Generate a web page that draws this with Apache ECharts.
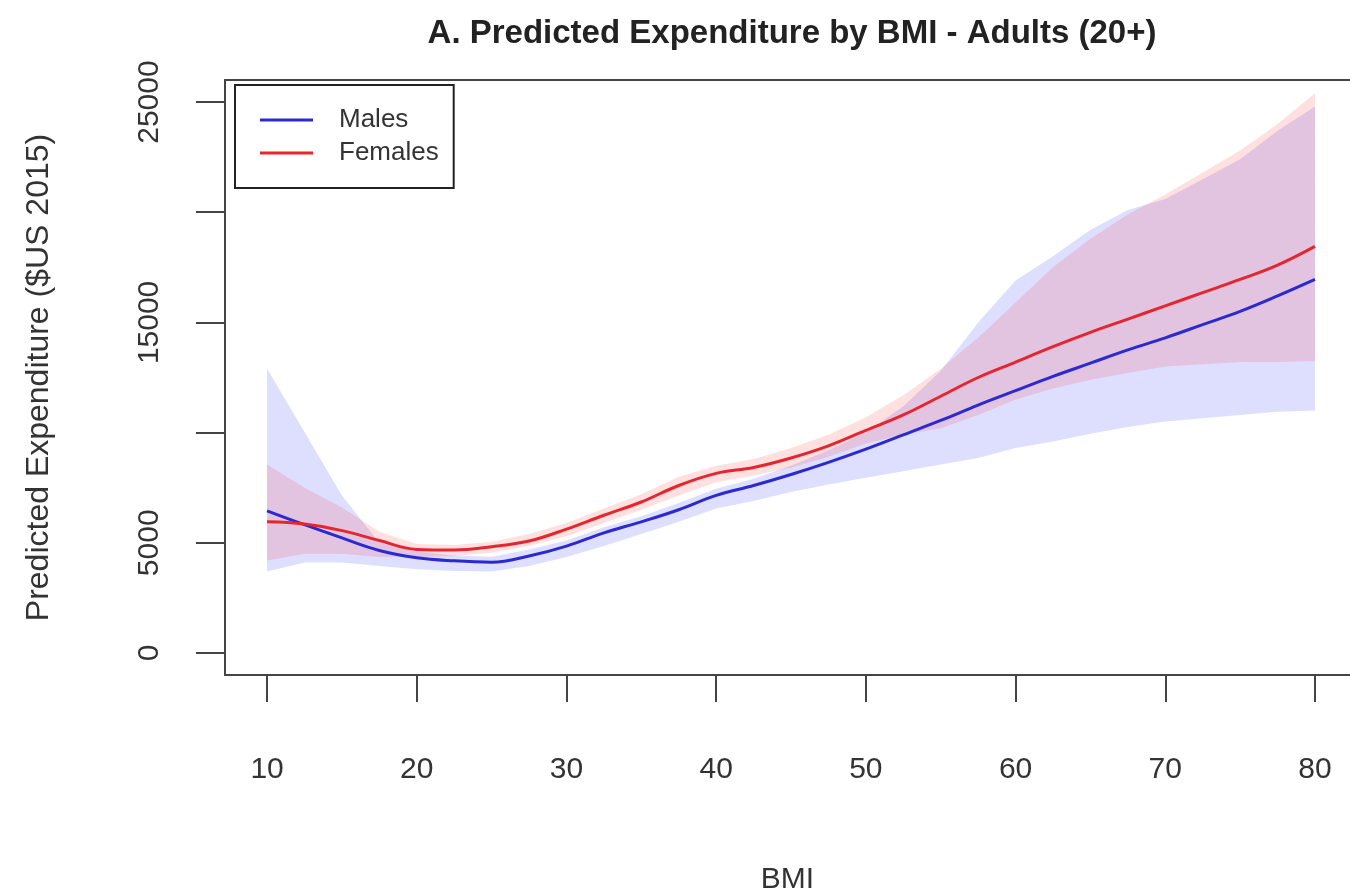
<!DOCTYPE html>
<html>
<head>
<meta charset="utf-8">
<title>Predicted Expenditure by BMI</title>
<script src="https://cdn.jsdelivr.net/npm/echarts@6/dist/echarts.min.js"></script>
<style>
  html, body { margin: 0; padding: 0; background: #ffffff; }
  #chart { width: 1350px; height: 894px; }
</style>
</head>
<body>
<div id="chart"></div>
<script>
// BMI grid for the fitted curves and their confidence bands
const bmi = [10, 12.5, 15, 17.5, 20, 22.5, 25, 27.5, 30, 32.5, 35, 37.5, 40, 42.5, 45,
             47.5, 50, 52.5, 55, 57.5, 60, 62.5, 65, 67.5, 70, 72.5, 75, 77.5, 80];

// Predicted expenditure ($US 2015), males
const maleFit = [6450, 5820, 5220, 4650, 4320, 4180, 4120, 4400, 4850, 5450, 5950, 6500, 7150, 7600, 8100,
                 8650, 9250, 9900, 10550, 11250, 11900, 12550, 13150, 13750, 14300, 14900, 15500, 16200, 16950];
const maleUpper = [12900, 10030, 7150, 5000, 4600, 4420, 4370, 4700, 5100, 5700, 6200, 6800, 7450, 7900, 8500,
                   9200, 10000, 11200, 12800, 15000, 16900, 18000, 19200, 20100, 20600, 21500, 22400, 23700, 24800];
const maleLower = [3700, 4100, 4100, 3950, 3800, 3720, 3700, 3950, 4350, 4850, 5400, 5950, 6550, 6900, 7300,
                   7650, 7950, 8250, 8550, 8850, 9300, 9600, 9950, 10250, 10500, 10650, 10800, 10950, 11000];

// Predicted expenditure ($US 2015), females
const femaleFit = [5950, 5850, 5550, 5100, 4700, 4670, 4820, 5080, 5620, 6250, 6850, 7600, 8150, 8420, 8850,
                   9400, 10100, 10800, 11650, 12500, 13200, 13900, 14550, 15150, 15750, 16350, 16950, 17600, 18450];
const femaleUpper = [8550, 7500, 6600, 5500, 4950, 4900, 5050, 5400, 5900, 6550, 7200, 8000, 8500, 8800, 9300,
                     9900, 10700, 11700, 12900, 14300, 15900, 17500, 18800, 19900, 20800, 21800, 22800, 24000, 25400];
const femaleLower = [4200, 4500, 4500, 4350, 4350, 4400, 4550, 4850, 5300, 5900, 6500, 7150, 7750, 8050, 8400,
                     8900, 9500, 9900, 10200, 10800, 11500, 12000, 12400, 12700, 13000, 13100, 13200, 13200, 13250];

// Axis ticks and labels
const xTicks = [10, 20, 30, 40, 50, 60, 70, 80];
const yTicks = [0, 5000, 10000, 15000, 20000, 25000];
const yLabels = [0, 5000, 15000, 25000];

const FONT = '"Liberation Sans", Arial, Helvetica, sans-serif';
const INK = '#333333';
const FRAME = '#444444';

const pairs = (ys) => bmi.map((x, i) => [x, ys[i]]);

// Confidence band drawn as one filled polygon: upper edge left→right, lower edge right→left
function band(lower, upper, fill) {
  return {
    type: 'custom',
    silent: true,
    z: 1,
    clip: true,
    data: [[bmi[0], upper[0]]],
    renderItem: function (params, api) {
      const pts = [];
      for (let i = 0; i < bmi.length; i++) pts.push(api.coord([bmi[i], upper[i]]));
      for (let i = bmi.length - 1; i >= 0; i--) pts.push(api.coord([bmi[i], lower[i]]));
      return { type: 'polygon', shape: { points: pts }, style: { fill: fill, stroke: null } };
    }
  };
}

const chart = echarts.init(document.getElementById('chart'), null, { renderer: 'canvas' });

chart.setOption({
  animation: false,
  backgroundColor: '#ffffff',
  title: {
    text: 'A. Predicted Expenditure by BMI - Adults (20+)',
    left: 787, top: 12, textAlign: 'center',
    textStyle: { fontFamily: FONT, fontSize: 33, fontWeight: 'bold', color: '#222222' }
  },
  legend: {
    data: [
      { name: 'Males', icon: 'rect' },
      { name: 'Females', icon: 'rect' }
    ],
    orient: 'vertical',
    left: 235, top: 85,
    padding: [20, 15, 20, 25],
    itemWidth: 53, itemHeight: 3, itemGap: 3,
    backgroundColor: '#ffffff',
    borderColor: '#222222', borderWidth: 2, borderRadius: 0,
    textStyle: { fontFamily: FONT, fontSize: 26, color: INK, lineHeight: 30, padding: [0, 0, 0, 21] }
  },
  grid: {
    left: 225, top: 80, right: 0, height: 595,
    show: false, containLabel: false, outerBoundsMode: 'none'
  },
  xAxis: [
    {
      type: 'value', min: 7.19, max: 82.34, position: 'bottom',
      name: 'BMI', nameLocation: 'middle', nameGap: 190,
      nameTextStyle: { fontFamily: FONT, fontSize: 30, color: INK },
      axisLine: { show: true, onZero: false, lineStyle: { color: FRAME, width: 2 } },
      axisTick: { show: true, inside: false, length: 27, customValues: xTicks,
                  lineStyle: { color: FRAME, width: 2 } },
      axisLabel: { customValues: xTicks, margin: 80, fontFamily: FONT, fontSize: 30, color: INK },
      splitLine: { show: false }
    },
    {
      // top edge of the plot frame
      type: 'value', min: 7.19, max: 82.34, position: 'top',
      axisLine: { show: true, onZero: false, lineStyle: { color: FRAME, width: 2 } },
      axisTick: { show: false }, axisLabel: { show: false }, splitLine: { show: false }
    }
  ],
  yAxis: {
    type: 'value', min: -1000, max: 26000,
    name: 'Predicted Expenditure ($US 2015)', nameLocation: 'middle', nameGap: 170,
    nameTextStyle: { fontFamily: FONT, fontSize: 32, color: INK },
    axisLine: { show: true, onZero: false, lineStyle: { color: FRAME, width: 2 } },
    axisTick: { show: true, inside: false, length: 29, customValues: yTicks,
                lineStyle: { color: FRAME, width: 2 } },
    axisLabel: { customValues: yLabels, rotate: 90, margin: 60, fontFamily: FONT, fontSize: 30, color: INK,
                 formatter: (v) => String(v) },
    splitLine: { show: false }
  },
  series: [
    band(maleLower, maleUpper, 'rgba(0, 0, 255, 0.13)'),
    band(femaleLower, femaleUpper, 'rgba(255, 0, 0, 0.12)'),
    {
      name: 'Males', type: 'line', data: pairs(maleFit), symbol: 'none', smooth: 0.4,
      lineStyle: { color: '#2a2ad0', width: 3 }, itemStyle: { color: '#2a2ad0' }, z: 3
    },
    {
      name: 'Females', type: 'line', data: pairs(femaleFit), symbol: 'none', smooth: 0.4,
      lineStyle: { color: '#e5262e', width: 3 }, itemStyle: { color: '#e5262e' }, z: 3
    }
  ]
});
</script>
</body>
</html>
